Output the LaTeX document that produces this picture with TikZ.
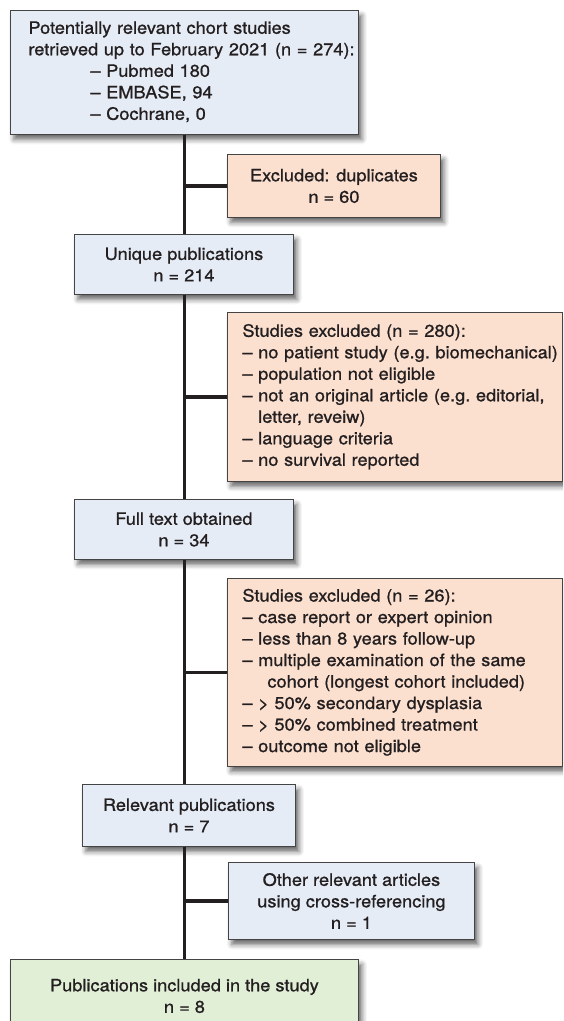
\documentclass[tikz,border=0pt]{standalone}
\usepackage{fontspec}
\setmainfont{TeX Gyre Heros}[FakeStretch=1.07,FakeBold=1]
\usetikzlibrary{shadows.blur}
\definecolor{bluebox}{HTML}{E6ECF6}
\definecolor{orangebox}{HTML}{FCE0CF}
\definecolor{greenbox}{HTML}{E2EFD7}
\definecolor{boxline}{HTML}{444444}
\definecolor{inkline}{HTML}{231F20}
\tikzset{
  flowbox/.style={draw=boxline,line width=0.9pt,anchor=north west,text=inkline,
    font=\fontsize{17}{21.5}\selectfont,inner ysep=0pt,
    blur shadow={shadow xshift=3.5pt,shadow yshift=-5pt,shadow blur radius=5pt,shadow opacity=60}},
  midbox/.style={flowbox,align=center,inner xsep=0pt},
  listbox/.style={flowbox,align=left,inner xsep=15pt,text width=#1},
}
\begin{document}
\begin{tikzpicture}[x=1pt,y=-1pt]
\clip (0,0) rectangle (563,1021);
  \begin{scope}[every node/.style={midbox,fill=bluebox}]
    \node[minimum width=213pt,minimum height=63pt,fill=orangebox] (b) at (227,154) {Excluded: duplicates\\ n = 60};
    \node[minimum width=219pt,minimum height=60pt] (c) at (74,234) {Unique publications\\ n = 214};
    \node[minimum width=219pt,minimum height=60pt] (e) at (74,499) {Full text obtained\\ n = 34};
    \node[minimum width=213pt,minimum height=62pt] (g) at (82,784) {Relevant publications\\ n = 7};
    \node[minimum width=246pt,minimum height=77pt] (h) at (228,862) {Other relevant articles\\ using cross-referencing\\ n = 1};
    \node[minimum width=348pt,minimum height=73pt,fill=greenbox] (i) at (10,959) {Publications included in the study\\ n = 8};
  \end{scope}
  \node[listbox=312pt,inner xsep=18pt,fill=bluebox,minimum height=124pt] (a) at (10,10)
    {\noindent\begin{tabular}{@{}l@{}}
      Potentially relevant chort studies\\
      retrieved up to February 2021 (n = 274):\\
      \hspace*{62pt}– Pubmed 180\\
      \hspace*{62pt}– EMBASE, 94\\
      \hspace*{62pt}– Cochrane, 0
    \end{tabular}};
  \node[listbox=305pt,fill=orangebox,minimum height=169pt] (d) at (227,312)
    {\noindent\begin{tabular}{@{}l@{}}
      Studies excluded (n = 280):\\
      – no patient study (e.g.\ biomechanical)\\
      – population not eligible\\
      – not an original article (e.g.\ editorial,\\
      \phantom{– }letter, reveiw)\\
      – language criteria\\
      – no survival reported
    \end{tabular}};
  \node[listbox=305pt,fill=orangebox,minimum height=188pt] (f) at (227,578)
    {\noindent\begin{tabular}{@{}l@{}}
      Studies excluded (n = 26):\\
      – case report or expert opinion\\
      – less than 8 years follow-up\\
      – multiple examination of the same\\
      \hspace*{25pt}cohort (longest cohort included)\\
      – > 50\% secondary dysplasia\\
      – > 50\% combined treatment\\
      – outcome not eligible
    \end{tabular}};
  \begin{scope}[every edge/.style={draw=inkline,line width=3.6pt}]
    \path (a.south) edge (c.north -| a.south);
    \path (c.south -| a.south) edge (e.north -| a.south);
    \path (e.south -| a.south) edge (g.north -| a.south);
    \path (g.south -| a.south) edge (i.north -| a.south);
    \path (b.west -| a.south) edge (b.west);
    \path (d.west -| a.south) edge (d.west);
    \path (f.west -| a.south) edge (f.west);
    \path (h.west -| a.south) edge (h.west);
  \end{scope}
\end{tikzpicture}
\end{document}
